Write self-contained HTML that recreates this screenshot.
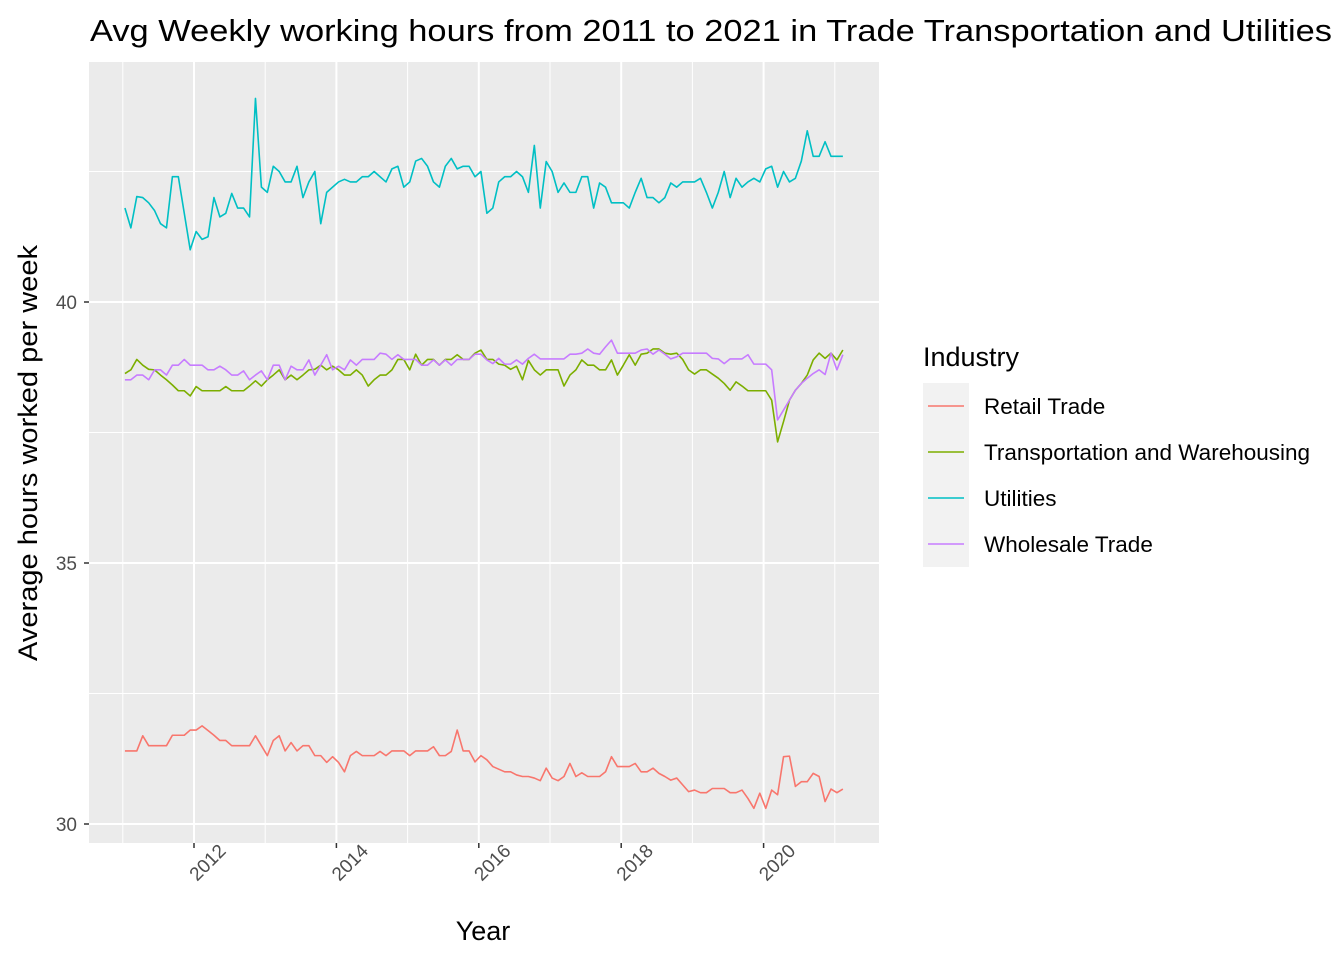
<!DOCTYPE html>
<html><head><meta charset="utf-8"><style>
body{margin:0;background:#fff;}
svg{display:block;font-family:"Liberation Sans",Arial,sans-serif;}
</style></head><body>
<svg id="chart" width="1344" height="960">
<rect width="1344" height="960" fill="#fff"/>
<text x="90" y="41" font-size="31" fill="#000" textLength="1242" lengthAdjust="spacingAndGlyphs">Avg Weekly working hours from 2011 to 2021 in Trade Transportation and Utilities</text>
<rect x="89" y="62" width="790" height="781" fill="#ebebeb"/>
<g id="grid"></g>
<g id="lines"></g>
<g id="axes"></g>
<text x="483" y="940" font-size="27" text-anchor="middle">Year</text>
<text transform="translate(37,453) rotate(-90)" font-size="27" text-anchor="middle" textLength="416" lengthAdjust="spacingAndGlyphs">Average hours worked per week</text>
<g>
<text x="923" y="366" font-size="27">Industry</text>
<rect x="923" y="383" width="46" height="184" fill="#f2f2f2"/>
<g id="legend"></g>
</g>
</svg>
<script>
const years = [2011,2012,2013,2014,2015,2016,2017,2018,2019,2020,2021];
const xTickLabels = ["2012","2014","2016","2018","2020"];
const yTicks = [30,35,40];
const seriesNames = ["Retail Trade","Transportation and Warehousing","Utilities","Wholesale Trade"];
const startYear = 2011.03;
const retail = [31.40,31.40,31.40,31.69,31.50,31.50,31.50,31.50,31.70,31.70,31.70,31.80,31.80,31.88,31.79,31.70,31.60,31.60,31.50,31.50,31.50,31.50,31.69,31.50,31.31,31.60,31.69,31.40,31.56,31.40,31.50,31.50,31.31,31.31,31.18,31.29,31.18,31.00,31.31,31.39,31.31,31.31,31.31,31.39,31.31,31.40,31.40,31.40,31.31,31.40,31.40,31.40,31.48,31.31,31.31,31.39,31.80,31.40,31.40,31.19,31.31,31.23,31.10,31.05,31.00,31.00,30.94,30.91,30.91,30.88,30.83,31.07,30.88,30.83,30.91,31.16,30.91,30.98,30.91,30.91,30.91,31.00,31.29,31.10,31.10,31.10,31.16,31.00,31.00,31.07,30.97,30.91,30.84,30.88,30.75,30.62,30.65,30.60,30.60,30.68,30.68,30.68,30.60,30.60,30.65,30.49,30.30,30.59,30.30,30.65,30.56,31.29,31.30,30.72,30.81,30.81,30.97,30.91,30.43,30.67,30.60,30.67];
const transport = [38.63,38.70,38.90,38.79,38.71,38.70,38.60,38.51,38.41,38.30,38.30,38.20,38.38,38.30,38.30,38.30,38.30,38.38,38.30,38.30,38.30,38.39,38.49,38.39,38.51,38.60,38.70,38.51,38.60,38.51,38.60,38.70,38.71,38.79,38.70,38.77,38.70,38.60,38.60,38.70,38.60,38.39,38.51,38.60,38.60,38.70,38.90,38.90,38.70,39.00,38.79,38.90,38.90,38.79,38.90,38.90,38.99,38.90,38.90,39.02,39.08,38.90,38.90,38.81,38.79,38.71,38.77,38.51,38.88,38.70,38.60,38.70,38.70,38.70,38.39,38.60,38.70,38.89,38.79,38.79,38.70,38.70,38.89,38.60,38.79,38.99,38.79,39.00,39.02,39.10,39.10,39.02,39.00,39.02,38.90,38.70,38.62,38.70,38.70,38.62,38.54,38.44,38.31,38.47,38.39,38.30,38.30,38.30,38.30,38.12,37.32,37.71,38.12,38.31,38.44,38.60,38.89,39.02,38.92,39.02,38.89,39.08];
const utilities = [41.80,41.42,42.02,42.00,41.90,41.75,41.50,41.42,42.40,42.40,41.70,41.00,41.35,41.20,41.25,42.00,41.63,41.70,42.08,41.80,41.80,41.63,43.90,42.20,42.10,42.60,42.50,42.30,42.30,42.60,42.00,42.30,42.50,41.50,42.10,42.20,42.30,42.35,42.30,42.30,42.40,42.40,42.50,42.40,42.30,42.55,42.60,42.20,42.30,42.70,42.75,42.60,42.30,42.20,42.60,42.75,42.55,42.60,42.60,42.40,42.50,41.70,41.80,42.30,42.40,42.40,42.50,42.40,42.10,43.00,41.80,42.69,42.50,42.10,42.28,42.10,42.10,42.40,42.40,41.80,42.28,42.20,41.90,41.90,41.90,41.80,42.10,42.37,42.00,42.00,41.90,42.00,42.28,42.20,42.30,42.30,42.30,42.37,42.10,41.80,42.10,42.50,42.00,42.37,42.20,42.30,42.37,42.30,42.55,42.60,42.20,42.50,42.30,42.37,42.70,43.28,42.79,42.79,43.07,42.79,42.79,42.79];
const wholesale = [38.51,38.51,38.60,38.60,38.51,38.70,38.70,38.60,38.79,38.79,38.90,38.79,38.79,38.79,38.70,38.70,38.77,38.70,38.60,38.60,38.68,38.51,38.60,38.68,38.51,38.79,38.79,38.51,38.77,38.70,38.70,38.89,38.60,38.79,38.99,38.70,38.77,38.70,38.89,38.79,38.90,38.90,38.90,39.02,39.00,38.90,38.99,38.90,38.90,38.90,38.79,38.79,38.89,38.79,38.89,38.79,38.90,38.90,38.90,39.00,39.00,38.89,38.82,38.92,38.81,38.81,38.89,38.81,38.92,39.00,38.91,38.91,38.91,38.91,38.91,39.00,39.00,39.02,39.10,39.02,39.00,39.14,39.27,39.02,39.02,39.02,39.02,39.08,39.10,39.00,39.08,39.00,38.91,38.95,39.02,39.02,39.02,39.02,39.02,38.92,38.91,38.82,38.91,38.91,38.91,38.99,38.81,38.81,38.81,38.70,37.74,37.93,38.12,38.31,38.44,38.54,38.63,38.70,38.61,39.02,38.70,38.99];
const colors = ["#F8766D","#7CAE00","#00BFC4","#C77CFF"];
const allSeries = [retail, transport, utilities, wholesale];
const seriesKeys = ["retail","transport","utilities","wholesale"];

const NS = "http://www.w3.org/2000/svg";
function xs(yr){ return 194 + (yr - 2012) * 71.2; }
function ys(v){ return 302 + (40 - v) * 52.2; }
function mk(tag, attrs, parent){
  const e = document.createElementNS(NS, tag);
  for (const k in attrs) e.setAttribute(k, attrs[k]);
  parent.appendChild(e);
  return e;
}
const grid = document.getElementById('grid');
const axes = document.getElementById('axes');
for (let i = 0; i < yTicks.length; i++) {
  const v = yTicks[i] + 2.5;
  const l = mk('line', {x1:89, x2:879, y1:ys(v), y2:ys(v), stroke:'#fff', 'stroke-width':1}, grid);
  
  
}
for (let i = 0; i < years.length; i += 2) {
  const l = mk('line', {x1:xs(years[i]), x2:xs(years[i]), y1:62, y2:843, stroke:'#fff', 'stroke-width':1}, grid);
  
  
}
for (let i = 0; i < yTicks.length; i++) {
  const y = ys(yTicks[i]);
  const l = mk('line', {x1:89, x2:879, y1:y, y2:y, stroke:'#fff', 'stroke-width':2}, grid);
  
  
  const t = mk('line', {x1:84, x2:89, y1:y, y2:y, stroke:'#333', 'stroke-width':1.5}, axes);
  
  
  const tx = mk('text', {x:77, y:y+7, 'font-size':19, fill:'#4d4d4d', 'text-anchor':'end'}, axes);
  tx.textContent = String(yTicks[i]);
  
  
}
for (let i = 0; i < xTickLabels.length; i++) {
  const x = xs(parseFloat(xTickLabels[i]));
  const l = mk('line', {x1:x, x2:x, y1:62, y2:843, stroke:'#fff', 'stroke-width':2}, grid);
  
  
  const t = mk('line', {x1:x, x2:x, y1:843, y2:848, stroke:'#333', 'stroke-width':1.5}, axes);
  
  
  const tx = mk('text', {transform:'translate('+(x+33)+',852) rotate(-45)', 'font-size':19, fill:'#4d4d4d', 'text-anchor':'end'}, axes);
  tx.textContent = xTickLabels[i];
  
  
}
const lines = document.getElementById('lines');
for (let s = 0; s < allSeries.length; s++) {
  const d = allSeries[s].map((v, i) => (i ? 'L' : 'M') + xs(startYear + i / 12).toFixed(2) + ',' + ys(v).toFixed(2)).join('');
  const p = mk('path', {d:d, fill:'none', stroke:colors[s], 'stroke-width':1.6, 'stroke-linejoin':'round'}, lines);
  
  
}
const lg = document.getElementById('legend');
for (let s = 0; s < seriesNames.length; s++) {
  const cy = 406 + s * 46;
  const l = mk('line', {x1:928, x2:964, y1:cy, y2:cy, stroke:colors[s], 'stroke-width':1.6}, lg);
  
  
  const t = mk('text', {x:984, y:cy+8, 'font-size':22.5, fill:'#000'}, lg);
  t.textContent = seriesNames[s];
  
  
}
</script>
</body></html>
